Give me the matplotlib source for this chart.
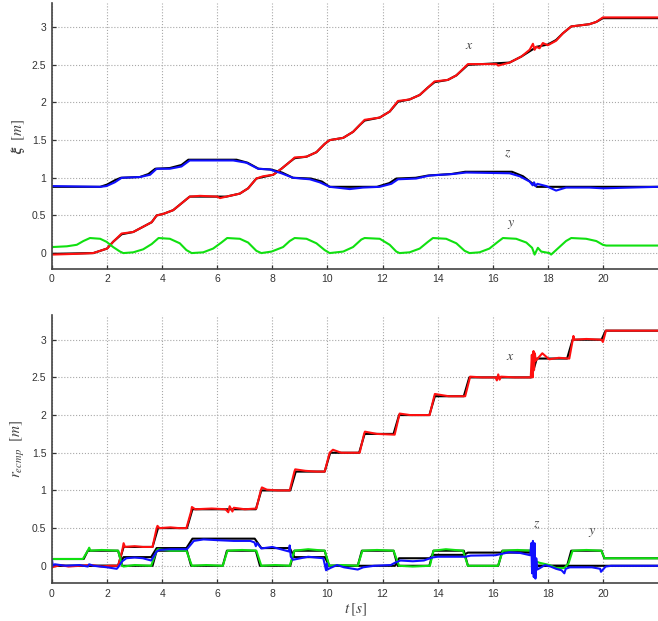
import matplotlib
matplotlib.use("Agg")
import matplotlib.pyplot as plt

plt.rcParams['font.family'] = ['Liberation Sans', 'DejaVu Sans']
plt.rcParams['mathtext.fontset'] = 'stix'

# ---- upper panel: xi (measured coloured, reference black) ----
t_xi_x = [0, 0.9, 1.5, 2.0, 2.22, 2.53, 2.95, 3.31, 3.62, 3.8, 4.04, 4.4, 4.7, 5.0, 5.37,
          6.0, 6.1, 6.33, 6.82, 7.12, 7.42, 7.66, 8.03, 8.33, 8.63, 8.81, 9.24, 9.6, 9.9,
          10.08, 10.57, 10.93, 11.17, 11.35, 11.9, 12.26, 12.56, 12.98, 13.35, 13.65, 13.89,
          14.37, 14.68, 15.1, 16.13, 16.2, 16.61, 17.04, 17.34, 17.46, 17.52, 17.58, 17.7,
          17.82, 18.0, 18.3, 18.55, 18.85, 19.51, 19.76, 20.0, 22.0]
xi_x = [-0.02, -0.01, 0.0, 0.06, 0.15, 0.26, 0.28, 0.35, 0.41, 0.50, 0.52, 0.57, 0.66, 0.75,
        0.76, 0.75, 0.73, 0.75, 0.79, 0.86, 0.99, 1.02, 1.04, 1.12, 1.21, 1.27, 1.28, 1.34,
        1.45, 1.50, 1.53, 1.61, 1.70, 1.77, 1.80, 1.88, 2.02, 2.04, 2.10, 2.20, 2.28, 2.30,
        2.36, 2.51, 2.51, 2.49, 2.53, 2.61, 2.70, 2.78, 2.70, 2.74, 2.72, 2.79, 2.76, 2.82,
        2.92, 3.01, 3.04, 3.07, 3.13, 3.13]

t_ref_x = [0, 1.5, 2.0, 2.22, 2.53, 2.95, 3.31, 3.62, 3.8, 4.04, 4.4, 4.7, 5.0, 6.33, 6.82,
           7.12, 7.42, 7.66, 8.03, 8.33, 8.63, 8.81, 9.24, 9.6, 9.9, 10.08, 10.57, 10.93,
           11.17, 11.35, 11.9, 12.26, 12.56, 12.98, 13.35, 13.65, 13.89, 14.37, 14.68, 15.1,
           16.61, 17.04, 17.34, 17.6, 18.0, 18.3, 18.55, 18.85, 19.51, 19.76, 20.0, 22.0]
ref_x = [-0.01, 0.0, 0.06, 0.15, 0.25, 0.28, 0.35, 0.41, 0.50, 0.52, 0.57, 0.66, 0.75, 0.75,
         0.79, 0.86, 0.99, 1.01, 1.04, 1.12, 1.21, 1.26, 1.28, 1.34, 1.45, 1.50, 1.53, 1.61,
         1.70, 1.76, 1.80, 1.88, 2.01, 2.04, 2.10, 2.20, 2.27, 2.30, 2.36, 2.50, 2.53, 2.61,
         2.68, 2.74, 2.77, 2.83, 2.92, 3.01, 3.04, 3.07, 3.12, 3.12]

t_xi_z = [0, 1.75, 1.98, 2.28, 2.53, 3.19, 3.56, 3.8, 4.28, 4.7, 5.0, 6.58, 7.06, 7.48, 7.91,
          8.33, 8.75, 9.36, 9.72, 10.08, 10.33, 10.81, 11.29, 11.9, 12.32, 12.56, 13.22,
          13.71, 14.55, 15.04, 16.61, 16.98, 17.34, 17.45, 17.5, 17.56, 17.62, 17.94, 18.3,
          18.66, 19.51, 20.0, 22.0]
xi_z = [0.89, 0.88, 0.89, 0.94, 1.00, 1.01, 1.04, 1.12, 1.12, 1.15, 1.23, 1.23, 1.20, 1.12,
        1.11, 1.06, 1.00, 0.98, 0.94, 0.88, 0.87, 0.85, 0.87, 0.88, 0.92, 0.98, 0.99, 1.03,
        1.05, 1.07, 1.06, 1.02, 0.95, 0.90, 0.94, 0.89, 0.92, 0.89, 0.83, 0.87, 0.87, 0.86,
        0.88]

t_ref_z = [0, 1.75, 2.0, 2.3, 2.5, 3.19, 3.5, 3.75, 4.28, 4.7, 4.95, 6.7, 7.1, 7.5, 7.95,
           8.35, 8.75, 9.4, 9.8, 10.08, 11.8, 12.25, 12.5, 13.2, 13.65, 14.5, 15.0, 16.7,
           17.1, 17.6, 22.0]
ref_z = [0.88, 0.88, 0.91, 0.97, 1.00, 1.01, 1.05, 1.12, 1.13, 1.17, 1.24, 1.24, 1.20, 1.12,
         1.11, 1.07, 1.00, 0.99, 0.95, 0.88, 0.88, 0.93, 0.99, 1.00, 1.03, 1.05, 1.08, 1.08,
         1.02, 0.88, 0.88]

t_xi_y = [0, 0.54, 0.9, 1.14, 1.38, 1.75, 1.98, 2.22, 2.47, 2.59, 2.95, 3.31, 3.62, 3.87,
          4.28, 4.64, 4.88, 5.07, 5.49, 5.85, 6.15, 6.36, 6.82, 7.12, 7.42, 7.6, 7.97, 8.39,
          8.63, 8.81, 9.24, 9.6, 9.9, 10.08, 10.57, 10.93, 11.23, 11.35, 11.9, 12.26, 12.5,
          12.62, 12.98, 13.35, 13.65, 13.83, 14.31, 14.68, 14.98, 15.16, 15.52, 15.88, 16.19,
          16.37, 16.85, 17.22, 17.43, 17.52, 17.64, 17.76, 18.06, 18.12, 18.42, 18.66, 18.85,
          19.39, 19.76, 20.0, 20.12, 22.0]
xi_y = [0.08, 0.09, 0.11, 0.16, 0.20, 0.19, 0.15, 0.08, 0.02, 0.00, 0.01, 0.05, 0.12, 0.20,
        0.19, 0.13, 0.04, 0.00, 0.01, 0.06, 0.14, 0.20, 0.19, 0.14, 0.03, 0.00, 0.02, 0.08,
        0.16, 0.20, 0.19, 0.13, 0.04, 0.00, 0.02, 0.08, 0.18, 0.20, 0.19, 0.11, 0.02, 0.00,
        0.01, 0.06, 0.15, 0.20, 0.19, 0.13, 0.03, 0.00, 0.01, 0.06, 0.15, 0.20, 0.19, 0.14,
        0.07, -0.02, 0.07, 0.02, 0.00, -0.02, 0.08, 0.16, 0.20, 0.19, 0.16, 0.11, 0.10, 0.10]

# ---- lower panel: r_ecmp ----
t_rx = [0, 2.4, 2.6, 3.65, 3.85, 4.9, 5.1, 7.4, 7.6, 8.65, 8.85, 9.9, 10.1, 11.15, 11.35,
        12.4, 12.6, 13.7, 13.9, 14.95, 15.15, 17.4, 17.6, 18.7, 18.9, 19.95, 20.1, 22.0]
r_ref_x = [0, 0, 0.25, 0.25, 0.5, 0.5, 0.75, 0.75, 1.0, 1.0, 1.25, 1.25, 1.5, 1.5, 1.75,
           1.75, 2.0, 2.0, 2.25, 2.25, 2.5, 2.5, 2.75, 2.75, 3.0, 3.0, 3.12, 3.12]

t_rm_x = [0, 0.3, 0.6, 1.0, 1.4, 1.8, 2.1, 2.4, 2.55, 2.6, 2.65, 3.0, 3.3, 3.65, 3.8, 3.83,
          3.9, 4.3, 4.6, 4.88, 5.05, 5.08, 5.2, 5.8, 6.3, 6.4, 6.45, 6.55, 6.6, 7.0, 7.42,
          7.58, 7.62, 7.8, 8.2, 8.63, 8.8, 8.83, 9.2, 9.6, 9.9, 10.08, 10.2, 10.5, 11.17,
          11.33, 11.36, 11.8, 12.44, 12.62, 13.0, 13.71, 13.87, 13.9, 14.4, 15.0, 15.18, 15.6,
          16.1, 16.15, 16.2, 16.25, 16.3, 16.8, 17.38, 17.42, 17.45, 17.48, 17.5, 17.53,
          17.56, 17.8, 18.05, 18.4, 18.78, 18.93, 18.96, 19.4, 19.95, 20.0, 20.11, 22.0]
r_m_x = [-0.02, 0.01, -0.01, 0.0, 0.01, -0.01, 0.0, 0.0, 0.2, 0.3, 0.25, 0.26, 0.25, 0.25,
         0.5, 0.53, 0.5, 0.51, 0.5, 0.5, 0.72, 0.78, 0.75, 0.76, 0.75, 0.71, 0.79, 0.72, 0.77,
         0.75, 0.76, 1.0, 1.04, 1.01, 1.0, 1.0, 1.25, 1.28, 1.26, 1.25, 1.25, 1.5, 1.54, 1.5,
         1.5, 1.75, 1.78, 1.75, 1.74, 2.02, 2.0, 2.0, 2.24, 2.28, 2.25, 2.25, 2.51, 2.5, 2.5,
         2.46, 2.54, 2.47, 2.51, 2.5, 2.5, 2.8, 2.5, 2.85, 2.6, 2.82, 2.72, 2.82, 2.74, 2.76,
         2.75, 3.05, 3.0, 3.01, 3.0, 2.97, 3.12, 3.12]

t_ry = [0, 1.15, 1.3, 2.4, 2.55, 3.65, 3.8, 4.9, 5.05, 6.2, 6.35, 7.4, 7.55, 8.65, 8.8, 9.9,
        10.05, 11.1, 11.25, 12.4, 12.55, 13.7, 13.85, 14.95, 15.1, 16.2, 16.35, 17.4, 17.55,
        18.7, 18.85, 19.95, 20.05, 22.0]
r_ref_y = [0.09, 0.09, 0.2, 0.2, 0.0, 0.0, 0.2, 0.2, 0.0, 0.0, 0.2, 0.2, 0.0, 0.0, 0.2, 0.2,
           0.0, 0.0, 0.2, 0.2, 0.0, 0.0, 0.2, 0.2, 0.0, 0.0, 0.2, 0.2, 0.0, 0.0, 0.2, 0.2,
           0.1, 0.1]

t_rm_y = [0, 1.12, 1.3, 1.35, 1.4, 1.8, 2.4, 2.55, 2.6, 3.0, 3.6, 3.8, 3.85, 4.3, 4.88, 5.08,
          5.6, 6.2, 6.37, 6.9, 7.42, 7.6, 8.1, 8.63, 8.8, 9.3, 9.9, 10.07, 10.5, 11.1, 11.27,
          11.8, 12.4, 12.6, 13.1, 13.72, 13.85, 14.3, 14.92, 15.1, 15.6, 16.19, 16.37, 16.9,
          17.4, 17.5, 17.55, 17.7, 18.06, 18.3, 18.6, 18.75, 18.9, 19.4, 19.94, 20.06, 22.0]
r_m_y = [0.09, 0.09, 0.2, 0.24, 0.2, 0.21, 0.2, 0.0, -0.01, 0.01, 0.0, 0.2, 0.22, 0.2, 0.2,
         0.0, 0.01, 0.0, 0.2, 0.21, 0.2, 0.0, 0.01, 0.0, 0.2, 0.22, 0.2, 0.0, 0.01, 0.0, 0.2,
         0.21, 0.2, 0.0, -0.01, 0.0, 0.2, 0.22, 0.2, 0.0, 0.0, 0.0, 0.2, 0.21, 0.2, 0.05,
         0.06, 0.04, 0.01, -0.03, -0.03, 0.03, 0.2, 0.21, 0.2, 0.1, 0.1]

t_rz = [0, 2.4, 2.6, 3.6, 3.8, 4.88, 5.1, 7.36, 7.6, 8.63, 8.8, 9.9, 10.07, 12.45, 12.6,
        13.71, 13.83, 14.95, 15.1, 17.42, 17.5, 22.0]
r_ref_z = [0.0, 0.0, 0.115, 0.115, 0.235, 0.235, 0.36, 0.36, 0.235, 0.235, 0.115, 0.115,
           0.0, 0.0, 0.10, 0.10, 0.145, 0.145, 0.175, 0.175, 0.0, 0.0]

t_rm_z = [0, 0.03, 0.1, 0.5, 1.0, 1.3, 1.35, 1.5, 2.0, 2.35, 2.4, 2.55, 2.7, 3.0, 3.3, 3.6,
          3.8, 3.9, 4.3, 4.9, 5.15, 5.5, 6.0, 6.6, 7.2, 7.35, 7.4, 7.45, 7.6, 8.0, 8.4, 8.6,
          8.63, 8.67, 8.75, 9.3, 9.85, 9.95, 9.98, 10.0, 10.1, 10.35, 10.6, 11.1, 11.3, 11.7,
          12.3, 12.45, 12.65, 13.1, 13.5, 13.8, 14.0, 15.0, 15.2, 16.1, 16.6, 17.0, 17.36,
          17.4, 17.43, 17.46, 17.49, 17.52, 17.55, 17.58, 17.62, 17.9, 18.1, 18.3, 18.5,
          18.6, 18.65, 18.8, 19.6, 19.9, 19.93, 20.1, 20.3, 22.0]
r_m_z = [0.08, 0.0, 0.02, 0.0, 0.01, -0.01, 0.02, 0.0, -0.02, -0.04, -0.02, 0.06, 0.1,
         0.11, 0.1, 0.07, 0.19, 0.21, 0.22, 0.22, 0.33, 0.35, 0.34, 0.33, 0.33, 0.31, 0.26,
         0.3, 0.23, 0.25, 0.21, 0.19, 0.27, 0.12, 0.08, 0.12, 0.1, -0.06, 0.03, -0.05, -0.03,
         0.01, -0.02, -0.05, -0.02, 0.0, 0.01, 0.04, 0.07, 0.06, 0.07, 0.11, 0.12, 0.12,
         0.135, 0.14, 0.18, 0.17, 0.14, 0.3, -0.1, 0.33, -0.15, 0.3, -0.17, 0.1, -0.05, 0.01,
         -0.01, -0.04, -0.06, -0.1, -0.04, -0.02, -0.02, -0.04, -0.08, -0.01, 0.0, 0.0]

RED = '#ff1010'
GREEN = '#10e010'
BLUE = '#1010ff'
LW = 1.5

fig = plt.figure(figsize=(6.58, 6.21), dpi=100)
ax1 = fig.add_axes([0.079, 0.567, 0.921, 0.428])
ax2 = fig.add_axes([0.079, 0.061, 0.921, 0.432])


def style(ax, ylim):
    ax.set_xlim(0, 22)
    ax.set_ylim(*ylim)
    ax.set_xticks(range(0, 21, 2))
    ax.set_yticks([0, 0.5, 1, 1.5, 2, 2.5, 3])
    ax.set_yticklabels(['0', '0.5', '1', '1.5', '2', '2.5', '3'])
    ax.grid(True, color='#a8a8a8', linestyle=':', linewidth=0.8)
    ax.set_axisbelow(True)
    for side in ('top', 'right'):
        ax.spines[side].set_visible(False)
    for side in ('left', 'bottom'):
        ax.spines[side].set_color('#444444')
        ax.spines[side].set_linewidth(1.2)
    ax.tick_params(direction='in', length=3, width=0.9, colors='#333333',
                   labelsize=7.5, pad=4)


# upper panel
ax1.plot(t_ref_x, ref_x, color='black', lw=LW)
ax1.plot(t_ref_z, ref_z, color='black', lw=LW)
ax1.plot(t_xi_x, xi_x, color=RED, lw=LW)
ax1.plot(t_xi_z, xi_z, color=BLUE, lw=LW)
ax1.plot(t_xi_y, xi_y, color=GREEN, lw=LW)
style(ax1, (-0.21, 3.32))
ax1.set_ylabel(r'$\boldsymbol{\xi}\ \ [m]$', fontsize=11, color='#444444', va='center')
ax1.yaxis.set_label_coords(-0.056, 0.5)
ax1.text(15.16, 2.76, '$x$', fontsize=10, color='#444444', ha='center', va='center')
ax1.text(16.54, 1.33, '$z$', fontsize=10, color='#444444', ha='center', va='center')
ax1.text(16.65, 0.39, '$y$', fontsize=10, color='#444444', ha='center', va='center')

# lower panel
ax2.plot(t_rx, r_ref_x, color='black', lw=LW)
ax2.plot(t_ry, r_ref_y, color='black', lw=LW)
ax2.plot(t_rz, r_ref_z, color='black', lw=LW)
ax2.plot(t_rm_x, r_m_x, color=RED, lw=LW)
ax2.plot(t_rm_y, r_m_y, color=GREEN, lw=LW)
ax2.plot(t_rm_z, r_m_z, color=BLUE, lw=LW)
style(ax2, (-0.23, 3.33))
ax2.set_ylabel(r'$r_{ecmp}\ \ [m]$', fontsize=11, color='#444444', va='center')
ax2.yaxis.set_label_coords(-0.056, 0.5)
ax2.set_xlabel(r'$t\,[s]$', fontsize=11, color='#444444', labelpad=2)
ax2.text(16.65, 2.79, '$x$', fontsize=10, color='#444444', ha='center', va='center')
ax2.text(17.6, 0.56, '$z$', fontsize=10, color='#444444', ha='center', va='center')
ax2.text(19.62, 0.45, '$y$', fontsize=10, color='#444444', ha='center', va='center')

fig.savefig('out.png', dpi=100)
